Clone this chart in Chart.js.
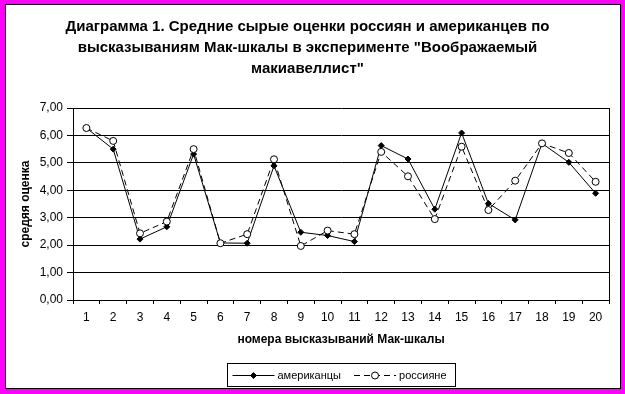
<!DOCTYPE html>
<html>
<head>
<meta charset="utf-8">
<script src="https://cdn.jsdelivr.net/npm/chart.js@4"></script>
<style>
    html, body { margin: 0; padding: 0; }
    body { width: 625px; height: 394px; background: #ff00ff; position: relative; overflow: hidden; }
    #frame { position: absolute; left: 5px; top: 4px; width: 616px; height: 385px; box-sizing: border-box; border: 1px solid #000; background: #fff; }
    #grafico { position: absolute; left: 0; top: 0; }
</style>
</head>
<body>
<div id="frame"></div>
<canvas id="grafico" width="625" height="394"></canvas>
<script>
// -------------------------------
// Dados
// -------------------------------
const categorias = ['1','2','3','4','5','6','7','8','9','10','11','12','13','14','15','16','17','18','19','20'];
const americanos = [6.27, 5.50, 2.22, 2.67, 5.32, 2.08, 2.07, 4.89, 2.47, 2.35, 2.13, 5.63, 5.14, 3.31, 6.09, 3.52, 2.92, 5.71, 5.02, 3.89];
const russos     = [6.27, 5.80, 2.43, 2.86, 5.50, 2.07, 2.40, 5.13, 1.97, 2.53, 2.40, 5.40, 4.51, 2.95, 5.59, 3.28, 4.35, 5.71, 5.36, 4.31];
const yMin = 0, yMax = 7, yPasso = 1;

const titulo = [
    'Диаграмма 1. Средние сырые оценки россиян и американцев по',
    'высказываниям Мак-шкалы в эксперименте "Воображаемый',
    'макиавеллист"'
];
const tituloX = 'номера высказываний Мак-шкалы';
const tituloY = 'средяя оценка';

const fonte = 'Arial, "Liberation Sans", sans-serif';

// moldura da área do gráfico (lado direito)
const bordaPlot = {
    id: 'bordaPlot',
    beforeDatasetsDraw(chart) {
        const {ctx, chartArea: a} = chart;
        ctx.save();
        ctx.strokeStyle = '#000';
        ctx.lineWidth = 1;
        ctx.beginPath();
        ctx.moveTo(Math.round(a.right) + 0.5, a.top);
        ctx.lineTo(Math.round(a.right) + 0.5, a.bottom);
        ctx.stroke();
        ctx.restore();
    }
};

// legenda estilo Excel, com caixa
const legendaCaixa = {
    id: 'legendaCaixa',
    afterDraw(chart) {
        const {ctx, chartArea: a} = chart;
        const amostra = 42, gap = 3, entre = 13, padE = 5, padD = 9;
        ctx.save();
        ctx.font = '11px ' + fonte;
        const itens = chart.data.datasets.map(ds => ({ds, w: ctx.measureText(ds.label).width}));
        const total = padE + padD + itens.reduce((s, it) => s + amostra + gap + it.w, 0) + entre * (itens.length - 1);
        const topo = chart.height - 30.5, alt = 23;
        let x = Math.round((a.left + a.right) / 2 - total / 2) + 0.5;

        ctx.strokeStyle = '#000';
        ctx.lineWidth = 1;
        ctx.strokeRect(x, topo, Math.round(total), alt);

        const cy = Math.round(topo + alt / 2) + 0.5;
        x += padE;
        itens.forEach((it, i) => {
            const ds = it.ds;
            ctx.setLineDash(ds.borderDash || []);
            ctx.beginPath();
            ctx.moveTo(x, cy);
            ctx.lineTo(x + amostra, cy);
            ctx.stroke();
            ctx.setLineDash([]);
            const px = x + amostra / 2;
            ctx.beginPath();
            if (ds.pointStyle === 'rectRot') {
                const r = ds.pointRadius;
                ctx.moveTo(px, cy - r); ctx.lineTo(px + r, cy); ctx.lineTo(px, cy + r); ctx.lineTo(px - r, cy); ctx.closePath();
            } else {
                ctx.arc(px, cy, ds.pointRadius, 0, Math.PI * 2);
            }
            ctx.fillStyle = ds.pointBackgroundColor;
            ctx.fill();
            ctx.stroke();
            ctx.fillStyle = '#000';
            ctx.textBaseline = 'middle';
            ctx.textAlign = 'left';
            ctx.fillText(ds.label, x + amostra + gap, cy);
            x += amostra + gap + it.w + entre;
        });
        ctx.restore();
    }
};

new Chart(document.getElementById('grafico'), {
    type: 'line',
    data: {
        labels: categorias,
        datasets: [
            { label: 'американцы', data: americanos, borderColor: '#000', borderWidth: 1, tension: 0,
              pointStyle: 'rectRot', pointRadius: 3, pointBackgroundColor: '#000', pointBorderColor: '#000', pointBorderWidth: 1, order: 1 },
            { label: 'россияне', data: russos, borderColor: '#000', borderWidth: 1, borderDash: [6, 4], tension: 0,
              pointStyle: 'circle', pointRadius: 3.5, pointBackgroundColor: '#fff', pointBorderColor: '#000', pointBorderWidth: 1, order: 0 }
        ]
    },
    options: {
        responsive: false,
        animation: false,
        events: [],
        layout: { padding: { left: 6, right: 16, top: 0, bottom: 0 } },
        scales: {
            x: {
                type: 'category',
                offset: true,
                grid: { offset: true, drawOnChartArea: false, drawTicks: true, tickLength: 4, color: '#000' },
                border: { color: '#000', width: 1 },
                ticks: { color: '#000', font: { size: 12, family: fonte }, padding: 6, maxRotation: 0, autoSkip: false },
                title: { display: true, text: tituloX, color: '#000', font: { size: 12, weight: 'bold', family: fonte }, padding: { top: 0, bottom: 47.5 } },
                afterFit: s => { s.height = 94; }
            },
            y: {
                min: yMin, max: yMax,
                grid: { color: '#000', tickLength: 6, drawTicks: true },
                border: { color: '#000', width: 1 },
                ticks: { stepSize: yPasso, color: '#000', font: { size: 12, family: fonte }, padding: 4,
                         callback: v => v.toFixed(2).replace('.', ',') },
                title: { display: true, text: tituloY, color: '#000', font: { size: 12, weight: 'bold', family: fonte }, padding: { top: 12.8, bottom: 0 } },
                afterFit: s => { s.width = 67; }
            }
        },
        plugins: {
            legend: { display: false },
            tooltip: { enabled: false },
            title: {
                display: true, text: titulo, color: '#000',
                font: { size: 15, weight: 'bold', family: fonte, lineHeight: 1.4 },
                padding: { top: 16.5, bottom: 28.5 }
            }
        }
    },
    plugins: [bordaPlot, legendaCaixa]
});
</script>
</body>
</html>
